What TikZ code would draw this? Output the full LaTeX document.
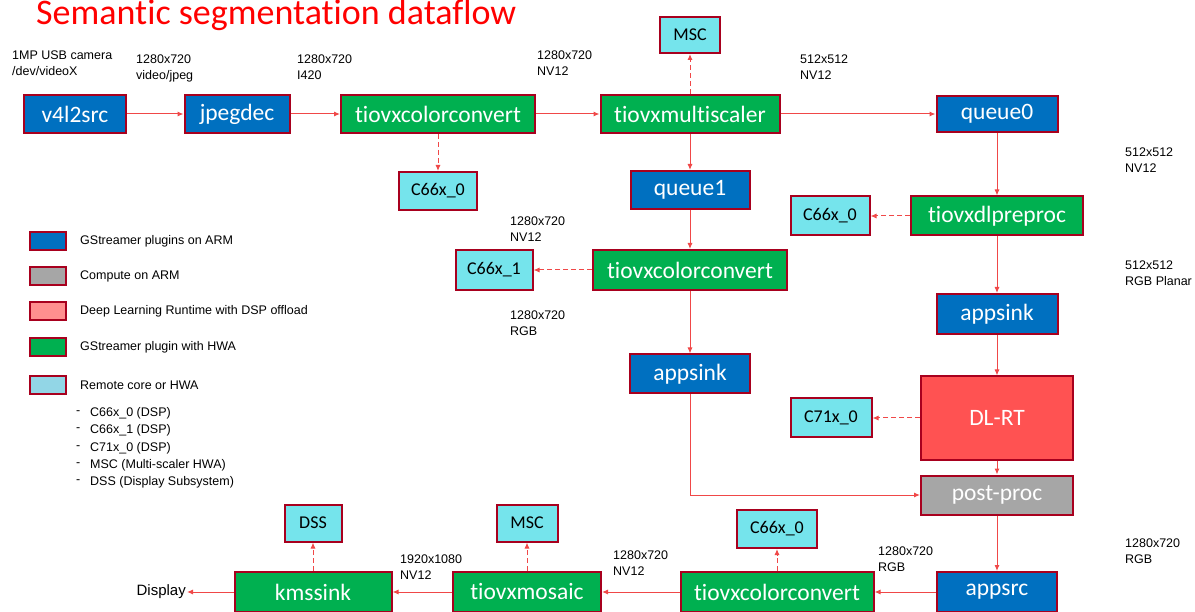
\documentclass[tikz,border=0pt]{standalone}
\usepackage{fontspec}
\setmainfont{Liberation Sans}
\newfontfamily\calibri{Carlito}[Ligatures=NoCommon]
\usepackage{tikz}
\usetikzlibrary{arrows.meta, positioning, calc}
\usepackage{xcolor}
\definecolor{armblue}{HTML}{0070C0}
\definecolor{hwagreen}{HTML}{00B050}
\definecolor{corecyan}{HTML}{75E4EC}
\definecolor{legcyan}{HTML}{92D6E6}
\definecolor{armgray}{HTML}{A6A6A6}
\definecolor{dlred}{HTML}{FF5252}
\definecolor{legpink}{HTML}{FF8F8F}
\definecolor{edgered}{HTML}{A8001E}
\definecolor{flowred}{HTML}{F04848}

\begin{document}
\begin{tikzpicture}[x=1pt, y=-1pt,
  plug/.style={draw=edgered, line width=2pt, text=white, inner sep=0pt,
    font=\calibri\fontsize{23.5}{26}\selectfont, minimum height=38},
  arm/.style={plug, fill=armblue},
  hwa/.style={plug, fill=hwagreen},
  core/.style={plug, fill=corecyan, text=black,
    font=\calibri\fontsize{18}{20}\selectfont},
  flow/.style={draw=flowred, line width=1pt, -{Latex[length=6pt,width=5pt]}},
  offload/.style={flow, dash pattern=on 5pt off 3pt},
  fmt/.style={anchor=north west, align=left, inner sep=0pt,
    font=\fontsize{12.5}{16}\selectfont}
]
\useasboundingbox (0,0) rectangle (1195,612);

\node[anchor=base west, inner sep=0pt, text=red,
  font=\calibri\fontsize{36}{36}\selectfont] (title) at (36,25) {Semantic segmentation dataflow};

% Capture branch
\node[arm, minimum width=102] (v4l2src) at (75,114) {v4l2src};
\node[arm, minimum width=105] (jpegdec) at (237,114) {jpegdec};
\node[hwa, minimum width=194] (ccin) at (438,114) {tiovxcolorconvert};
\node[core, minimum width=78] (c66in) at (438,191) {C66x\_0};
\node[hwa, minimum width=179] (scaler) at (690,114) {tiovxmultiscaler};
\node[core, minimum width=60, minimum height=36] (mscin) at (690,35) {MSC};

% Display branch (left column)
\node[arm, minimum width=119] (queue1) at (690,190) {queue1};
\node[hwa, minimum width=194, minimum height=40] (ccmid) at (690,270) {tiovxcolorconvert};
\node[core, minimum width=77, minimum height=40] (c66mid) at (494,270) {C66x\_1};
\node[arm, minimum width=120, minimum height=39] (sinkmid) at (690,374) {appsink};

% Inference branch (right column)
\node[arm, minimum width=121, minimum height=36] (queue0) at (997,114) {queue0};
\node[hwa, minimum width=172, minimum height=39] (preproc) at (997,216) {tiovxdlpreproc};
\node[core, minimum width=79, minimum height=39] (c66pre) at (830,216) {C66x\_0};
\node[arm, minimum width=121, minimum height=40] (sinkdl) at (997,314) {appsink};
\node[plug, fill=dlred, minimum width=152, minimum height=83] (dlrt) at (997,418) {DL-RT};
\node[core, minimum width=81, minimum height=39] (c71) at (831,418) {C71x\_0};
\node[plug, fill=armgray, minimum width=152, minimum height=39] (post) at (997,495) {post-proc};

% Output branch
\node[arm, minimum width=120, minimum height=40] (appsrc) at (997,592) {appsrc};
\node[hwa, minimum width=193, minimum height=40] (ccout) at (777,592) {tiovxcolorconvert};
\node[core, minimum width=80] (c66out) at (777,529) {C66x\_0};
\node[hwa, minimum width=148, minimum height=40] (mosaic) at (527,592) {tiovxmosaic};
\node[core, minimum width=61, minimum height=37] (mscout) at (527,523) {MSC};
\node[hwa, minimum width=157, minimum height=40] (kmssink) at (313,592) {kmssink};
\node[core, minimum width=57, minimum height=37] (dss) at (313,523) {DSS};
\node[anchor=east, font=\fontsize{15}{15}\selectfont, inner sep=1pt] (display) at (187,592) {Display};

% Format labels
\node[fmt] (fcam) at (12,51) {1MP USB camera\\/dev/videoX};
\node[fmt] (fjpeg) at (136,55) {1280x720\\video/jpeg};
\node[fmt] (fi420) at (297,55) {1280x720\\I420};
\node[fmt] (fnv1) at (537,51) {1280x720\\NV12};
\node[fmt] (fnv2) at (800,55) {512x512\\NV12};
\node[fmt] (fnv3) at (1125,148) {512x512\\NV12};
\node[fmt] (fnv4) at (510,217) {1280x720\\NV12};
\node[fmt] (frgb1) at (510,311) {1280x720\\RGB};
\node[fmt] (fplanar) at (1125,261) {512x512\\RGB Planar};
\node[fmt] (frgb2) at (1125,539) {1280x720\\RGB};
\node[fmt] (frgb3) at (878,547) {1280x720\\RGB};
\node[fmt] (fnv5) at (613,551) {1280x720\\NV12};
\node[fmt] (fnv6) at (400,555) {1920x1080\\NV12};

% Legend
\foreach \i/\y/\col/\lbl in {
  0/241/armblue/GStreamer plugins on ARM,
  1/276/armgray/Compute on ARM,
  2/311/legpink/Deep Learning Runtime with DSP offload,
  3/347/hwagreen/GStreamer plugin with HWA,
  4/385/legcyan/Remote core or HWA
}{
  \node[draw=edgered, line width=2pt, fill=\col, minimum width=36, minimum height=18,
    inner sep=0pt] (key\i) at (48,\y) {};
  \node[anchor=west, font=\fontsize{12.5}{14}\selectfont, inner sep=0pt] (keytext\i)
    at (80,\y) {\lbl};
}
\foreach \i/\y/\lbl in {
  0/413/C66x\_0 (DSP),
  1/430/C66x\_1 (DSP),
  2/448/C71x\_0 (DSP),
  3/465/MSC (Multi-scaler HWA),
  4/482/DSS (Display Subsystem)
}{
  \node[anchor=west, font=\fontsize{12.5}{14}\selectfont, inner sep=0pt] (dash\i) at (76,\y) {-};
  \node[anchor=west, font=\fontsize{12.5}{14}\selectfont, inner sep=0pt] (core\i) at (90,\y) {\lbl};
}

% Data flow
\draw[flow] (v4l2src) -- (jpegdec);
\draw[flow] (jpegdec) -- (ccin);
\draw[flow] (ccin) -- (scaler);
\draw[flow] (scaler) -- (queue0);
\draw[flow] (scaler) -- (queue1);
\draw[flow] (queue1) -- (ccmid);
\draw[flow] (ccmid) -- (sinkmid);
\draw[flow] (queue0) -- (preproc);
\draw[flow] (preproc) -- (sinkdl);
\draw[flow] (sinkdl) -- (dlrt);
\draw[flow] (dlrt) -- (post);
\draw[flow] (sinkmid.south) |- (post.west);
\draw[flow] (post) -- (appsrc);
\draw[flow] (appsrc) -- (ccout);
\draw[flow] (ccout) -- (mosaic);
\draw[flow] (mosaic) -- (kmssink);
\draw[flow] (kmssink.west) -- (display.east);

% Offload to remote cores
\draw[offload] (ccin) -- (c66in);
\draw[offload] (scaler) -- (mscin);
\draw[offload] (ccmid) -- (c66mid);
\draw[offload] (preproc) -- (c66pre);
\draw[offload] (dlrt) -- (c71);
\draw[offload] (ccout) -- (c66out);
\draw[offload] (mosaic) -- (mscout);
\draw[offload] (kmssink) -- (dss);

\end{tikzpicture}
\end{document}
